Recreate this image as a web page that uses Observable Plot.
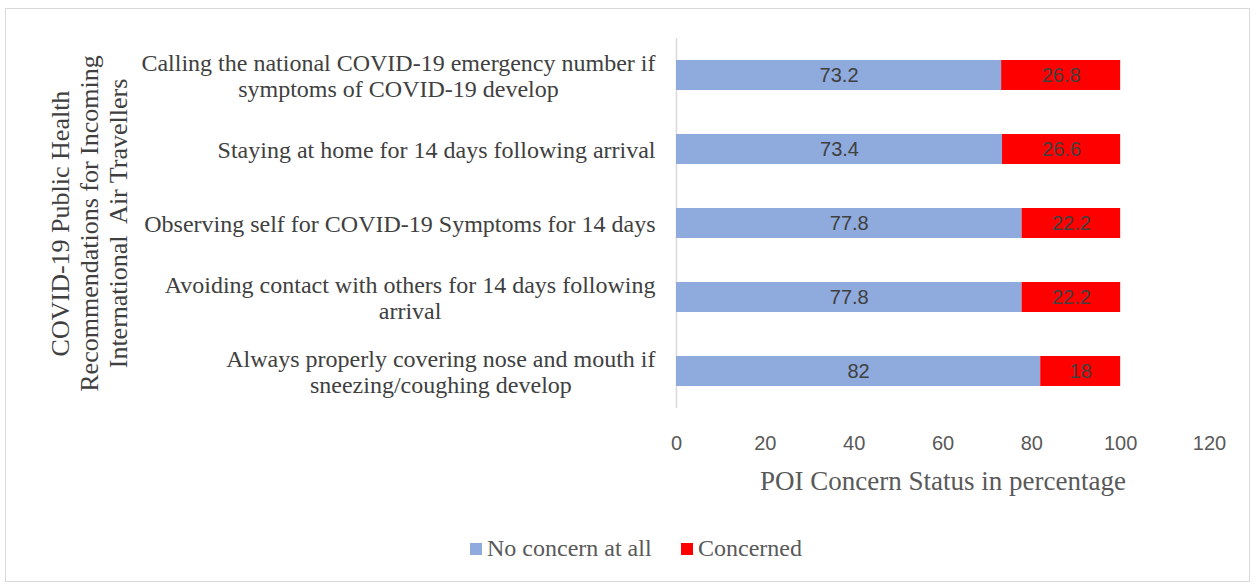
<!DOCTYPE html>
<html>
<head>
<meta charset="utf-8">
<script src="https://cdn.jsdelivr.net/npm/d3@7"></script>
<script src="https://cdn.jsdelivr.net/npm/@observablehq/plot@0.6"></script>
<style>
  html, body { margin: 0; padding: 0; background: #fff; }
  #wrap { position: relative; width: 1257px; height: 585px; overflow: hidden; }
  #frame { position: absolute; left: 5px; top: 8px; width: 1245px; height: 574px; border: 1.5px solid #d9d9d9; box-sizing: border-box; }
  #chart { position: absolute; left: 0; top: 0; }
  #legend { position: absolute; left: 0; top: 525px; width: 1257px; height: 50px; font-family: "Liberation Serif", "Times New Roman", serif; font-size: 24px; color: #595959; }
  .item { position: absolute; top: 10px; display: flex; align-items: center; white-space: nowrap; }
  .sw { width: 12px; height: 12px; margin-right: 5px; }
</style>
</head>
<body>
<div id="wrap">
  <div id="frame"></div>
  <div id="chart"></div>
  <div id="legend"></div>
</div>
<script>
const categories = [
  "Calling the national COVID-19 emergency number if\nsymptoms of COVID-19 develop",
  "Staying at home for 14 days following arrival",
  "Observing self for COVID-19 Symptoms for 14 days",
  "Avoiding contact with others for 14 days following\narrival",
  "Always properly covering nose and mouth if\nsneezing/coughing develop"
];
const seriesNames = ["No concern at all", "Concerned"];
const noConcern = [73.2, 73.4, 77.8, 77.8, 82];
const concerned = [26.8, 26.6, 22.2, 22.2, 18];
const seriesColors = ["#8faadc", "#ff0000"];
const xTicks = [0, 20, 40, 60, 80, 100, 120];
const xLabel = "POI Concern Status in percentage";
const yTitle = "COVID-19 Public Health\nRecommendations for Incoming\nInternational  Air Travellers";

const data = [];
categories.forEach((c, i) => {
  data.push({cat: c, series: seriesNames[0], value: noConcern[i]});
  data.push({cat: c, series: seriesNames[1], value: concerned[i]});
});

const serif = "Liberation Serif, Times New Roman, serif";
const sans = "Liberation Sans, Arial, sans-serif";
const labelSize = 24;

// measure longest line of each category label so lines can be centred with right edge aligned
const ctx = document.createElement("canvas").getContext("2d");
ctx.font = labelSize + "px 'Liberation Serif'";
const labelWidth = c => Math.max(...c.split("\n").map(l => ctx.measureText(l).width));

const catLabelMarks = categories.map(c =>
  Plot.text([c], {
    frameAnchor: "left", y: () => c, text: d => d,
    dx: -21 - labelWidth(c) / 2, textAnchor: "middle",
    lineHeight: 1.08, fontSize: labelSize, fontFamily: serif, fill: "#404040"
  })
);

const chart = Plot.plot({
  width: 1257,
  height: 525,
  marginLeft: 676,
  marginRight: 48,
  marginTop: 38,
  marginBottom: 117,
  style: {background: "transparent", overflow: "visible"},
  x: {domain: [0, 120], ticks: xTicks},
  y: {domain: categories, paddingInner: 0.6, paddingOuter: 0.3, axis: null},
  color: {domain: seriesNames, range: seriesColors},
  marks: [
    Plot.ruleX([0], {stroke: "#d9d9d9", strokeWidth: 1.5}),
    Plot.barX(data, Plot.stackX({x: "value", y: "cat", fill: "series", order: seriesNames})),
    Plot.text(data, Plot.stackX({x: "value", y: "cat", z: "series", order: seriesNames, text: d => String(d.value), fill: "#404040", fontSize: 20, fontFamily: sans})),
    Plot.axisX({ticks: xTicks, tickSize: 0, tickPadding: 27, fontSize: 20, fontFamily: sans, color: "#595959", label: null}),
    Plot.text([xLabel], {frameAnchor: "bottom", dy: 81, fontSize: 27, fontFamily: serif, fill: "#595959"}),
    ...catLabelMarks,
    Plot.text([yTitle], {frameAnchor: "left", dx: -588, rotate: -90, textAnchor: "middle", lineHeight: 1.13, fontSize: 26, fontFamily: serif, fill: "#404040"})
  ]
});
document.getElementById("chart").appendChild(chart);

const legend = document.getElementById("legend");
const lefts = [470, 681];
seriesNames.forEach((s, i) => {
  const it = document.createElement("div");
  it.className = "item";
  it.style.left = lefts[i] + "px";
  const sw = document.createElement("span");
  sw.className = "sw";
  sw.style.background = seriesColors[i];
  const t = document.createElement("span");
  t.textContent = s;
  it.appendChild(sw); it.appendChild(t);
  legend.appendChild(it);
});
</script>
</body>
</html>
